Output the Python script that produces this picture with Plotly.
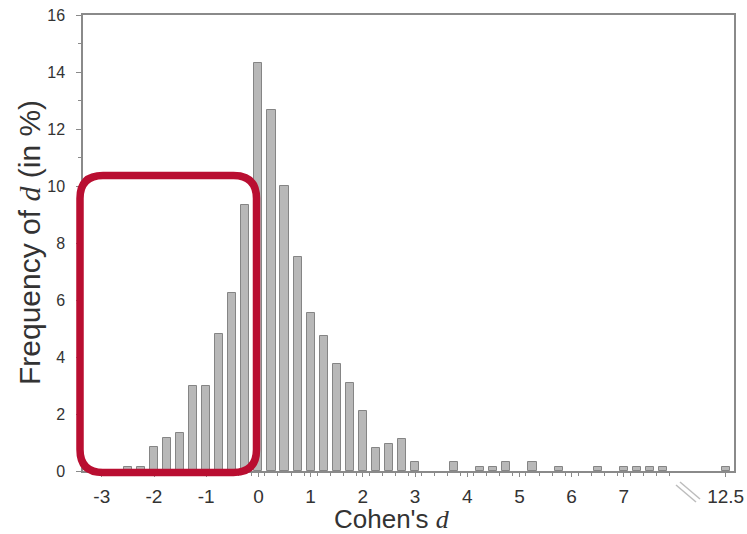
import plotly.graph_objects as go

# ---- data ----
d_values = [-2.5, -2.25, -2.0, -1.75, -1.5, -1.25, -1.0, -0.75, -0.5, -0.25,
            0.0, 0.25, 0.5, 0.75, 1.0, 1.25, 1.5, 1.75, 2.0, 2.25, 2.5, 2.75,
            3.0, 3.75, 4.25, 4.5, 4.75, 5.25, 5.75, 6.5, 7.0, 7.25, 7.5, 7.75,
            12.5]
freq_pct = [0.15, 0.15, 0.83, 1.15, 1.32, 2.98, 2.98, 4.8, 6.25, 9.35,
            14.3, 12.65, 10.0, 7.5, 5.55, 4.75, 3.75, 3.1, 2.12, 0.8, 0.95, 1.12,
            0.3, 0.3, 0.13, 0.13, 0.3, 0.3, 0.13, 0.13, 0.13, 0.13, 0.13, 0.13,
            0.13]
x_tick_values = [-3, -2, -1, 0, 1, 2, 3, 4, 5, 6, 7, 12.5]
x_tick_labels = ["-3", "-2", "-1", "0", "1", "2", "3", "4", "5", "6", "7", "12.5"]
y_tick_values = [0, 2, 4, 6, 8, 10, 12, 14, 16]

# broken axis: values beyond the break are drawn shifted left
BREAK_AT = 8.0
BREAK_SHIFT = 3.55


def axis_pos(v):
    return v - BREAK_SHIFT if v > BREAK_AT else v


bar_x = [axis_pos(v) for v in d_values]
tick_x = [axis_pos(v) for v in x_tick_values]
minor_x = [k * 0.25 + 0.125 for k in range(-12, 32)]

# layout geometry (window pixels; body margin removed in post_script)
W, H = 747, 534
PLOT_L, PLOT_R, PLOT_T, PLOT_B = 83, 734, 15, 471
PW, PH = PLOT_R - PLOT_L, PLOT_B - PLOT_T
L, T = PLOT_L, PLOT_T
R, B = W - L - PW, H - T - PH


def px(xp):
    return (xp - PLOT_L) / PW


def py(yp):
    return (PLOT_B - yp) / PH


fig = go.Figure()
fig.add_trace(go.Bar(
    x=bar_x, y=freq_pct, width=0.155,
    marker=dict(color="#b8b8b8", line=dict(color="#858585", width=1)),
    hoverinfo="skip", showlegend=False,
))

axis_color = "#8a8a8a"
fig.update_xaxes(
    range=[-3.36, 9.11], tickmode="array", tickvals=tick_x, ticktext=x_tick_labels,
    showgrid=False, zeroline=False, showline=True, linecolor=axis_color, linewidth=1.5,
    mirror=True, ticks="outside", ticklen=4, tickcolor=axis_color,
    ticklabelstandoff=3, automargin=False, ticklabeloverflow="allow",
    tickfont=dict(family="Liberation Sans, Arial, sans-serif", size=19, color="#333333"),
    minor=dict(tickmode="array", tickvals=minor_x, ticks="outside", ticklen=3,
               tickcolor=axis_color, showgrid=False),
)
fig.update_yaxes(
    range=[0, 16], tickvals=y_tick_values, showgrid=False, zeroline=False,
    showline=True, linecolor=axis_color, linewidth=1.5, mirror=True,
    ticks="outside", ticklen=5, tickcolor=axis_color, ticklabelstandoff=8,
    automargin=False, ticklabeloverflow="allow",
    tickfont=dict(family="Liberation Sans, Arial, sans-serif", size=16, color="#333333"),
    minor=dict(dtick=1, ticks="outside", ticklen=3, tickcolor=axis_color, showgrid=False),
)

serif_d = "<span style=\"font-family:'Liberation Serif', 'DejaVu Serif', serif;font-style:italic\">d</span>"

annotations = [
    dict(text="Cohen's " + serif_d, xref="paper", yref="paper",
         x=px(392), y=py(519), showarrow=False, xanchor="center", yanchor="middle",
         font=dict(family="Liberation Sans, Arial, sans-serif", size=26, color="#333333")),
    dict(text="Frequency of " + serif_d + " (in %)", xref="paper", yref="paper",
         x=px(29), y=py(243), showarrow=False, textangle=-90,
         xanchor="center", yanchor="middle",
         font=dict(family="Liberation Sans, Arial, sans-serif", size=30, color="#333333")),
]

# rounded highlight rectangle (paper coordinates)
x0, x1 = px(80), px(256.5)
y0, y1 = py(472.5), py(175.5)
rx, ry = 23 / PW, 23 / PH
path = (f"M {x0 + rx},{y1} L {x1 - rx},{y1} Q {x1},{y1} {x1},{y1 - ry} "
        f"L {x1},{y0 + ry} Q {x1},{y0} {x1 - rx},{y0} "
        f"L {x0 + rx},{y0} Q {x0},{y0} {x0},{y0 + ry} "
        f"L {x0},{y1 - ry} Q {x0},{y1} {x0 + rx},{y1} Z")
shapes = [
    dict(type="path", xref="paper", yref="paper", path=path,
         line=dict(color="#b90e31", width=7.5), fillcolor="rgba(0,0,0,0)", layer="above"),
    dict(type="line", xref="paper", yref="paper", x0=px(676), y0=py(485), x1=px(696), y1=py(502),
         line=dict(color="#bdbdbd", width=1.5)),
    dict(type="line", xref="paper", yref="paper", x0=px(680), y0=py(482), x1=px(700), y1=py(499),
         line=dict(color="#bdbdbd", width=1.5)),
]

fig.update_layout(
    width=W, height=H, margin=dict(l=L, r=R, t=T, b=B),
    paper_bgcolor="white", plot_bgcolor="white",
    annotations=annotations, shapes=shapes, bargap=0,
)

fig.write_html(
    "out.html",
    config={"displayModeBar": False},
    post_script="document.body.style.margin='0';document.body.style.overflow='hidden';",
)
